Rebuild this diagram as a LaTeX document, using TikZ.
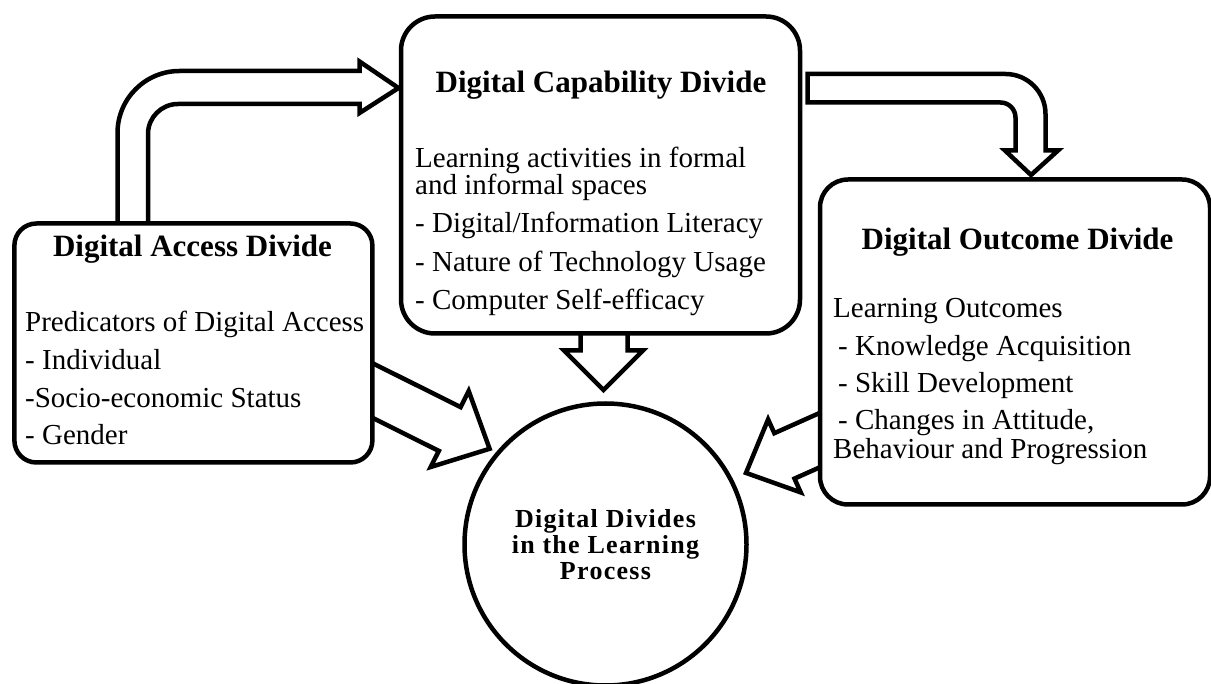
\documentclass[tikz,border=0pt]{standalone}
\usepackage{fontspec}
\setmainfont{Liberation Serif}
\begin{document}
\begin{tikzpicture}[x=1pt, y=-1pt,
    box/.style={draw, line width=4.5pt, fill=white},
    blockarrow/.style={draw, line width=4.5pt, fill=white, line join=miter},
    title/.style={font=\bfseries\fontsize{31}{31}\selectfont, anchor=base, inner sep=0pt},
    body/.style={font=\fontsize{29}{29}\selectfont, anchor=base west, inner sep=0pt}]

    % --- canvas ---
    \fill[white] (0,0) rectangle (1211,684);
    \useasboundingbox (0,0) rectangle (1211,684);

    % --- block arrows (drawn first, the boxes hide their tails) ---
    % access -> capability
    \draw[blockarrow] (117.5,240) -- (117.5,133) arc[start angle=180, end angle=90, radius=62pt]
        -- (359.5,71) -- (359.5,61.5) -- (398.5,88) -- (359.5,113) -- (359.5,104)
        -- (178,104) arc[start angle=90, end angle=180, radius=30pt] -- (148,240) -- cycle;
    % capability -> outcome
    \draw[blockarrow] (807.5,74) -- (1005.5,74) arc[start angle=90, end angle=0, radius=40pt]
        -- (1045.5,150.5) -- (1058,150.5) -- (1031,175) -- (1005,150.5) -- (1015.5,150.5)
        -- (1015.5,117.5) arc[start angle=0, end angle=90, radius=15pt] -- (807.5,102.5) -- cycle;
    % capability -> divides
    \draw[blockarrow] (580.5,320) -- (580.5,350.5) -- (564,350.5) -- (603.5,390)
        -- (643,350.5) -- (627.5,350.5) -- (627.5,320);
    % access -> divides
    \draw[blockarrow] (356.5,355.2) -- (460.6,407.1) -- (468.7,391) -- (489.6,448.8)
        -- (430.7,467) -- (438.8,450.9) -- (334.7,399);
    % outcome -> divides
    \draw[blockarrow] (837.3,405.1) -- (774.3,433.2) -- (768.1,419.4) -- (746,472.9)
        -- (800.7,492.4) -- (794.5,478.6) -- (857.5,450.5);

    % --- boxes ---
    \node[box, rounded corners=22pt, minimum width=358pt, minimum height=239pt] (access) at (193.4,343) {};
    \node[box, rounded corners=34pt, minimum width=399pt, minimum height=317pt] (capability) at (600.5,175) {};
    \node[box, rounded corners=28pt, minimum width=390pt, minimum height=325pt] (outcome) at (1015,342) {};
    \node[box, circle, minimum size=282pt, inner sep=0pt, align=center,
          font=\bfseries\fontsize{26}{26}\selectfont\addfontfeatures{LetterSpace=5}] (divides) at (605.5,544.5)
          {Digital Divides\\in the Learning\\Process};

    % --- titles ---
    \node[title] (acctitle) at (192.5,257) {Digital Access Divide};
    \node[title] (captitle) at (601,93) {Digital Capability Divide};
    \node[title] (outtitle) at (1017.5,250) {Digital Outcome Divide};

    % --- box texts ---
    \foreach \y/\txt [count=\i] in {332/Predicators of Digital Access, 370/- Individual,
        408/-Socio-economic Status, 445/- Gender}
        \node[body] (acc\i) at (25,\y) {\txt};
    \foreach \y/\txt [count=\i] in {168/Learning activities in formal, 195/and informal spaces,
        233/{- Digital/Information Literacy}, 272/- Nature of Technology Usage, 310/- Computer Self-efficacy}
        \node[body] (cap\i) at (415,\y) {\txt};
    \foreach \x/\y/\txt [count=\i] in {833/318/Learning Outcomes, 838/356/- Knowledge Acquisition,
        838/393/- Skill Development, 838/430/{- Changes in Attitude,}, 833/459/Behaviour and Progression}
        \node[body] (out\i) at (\x,\y) {\txt};

\end{tikzpicture}
\end{document}
